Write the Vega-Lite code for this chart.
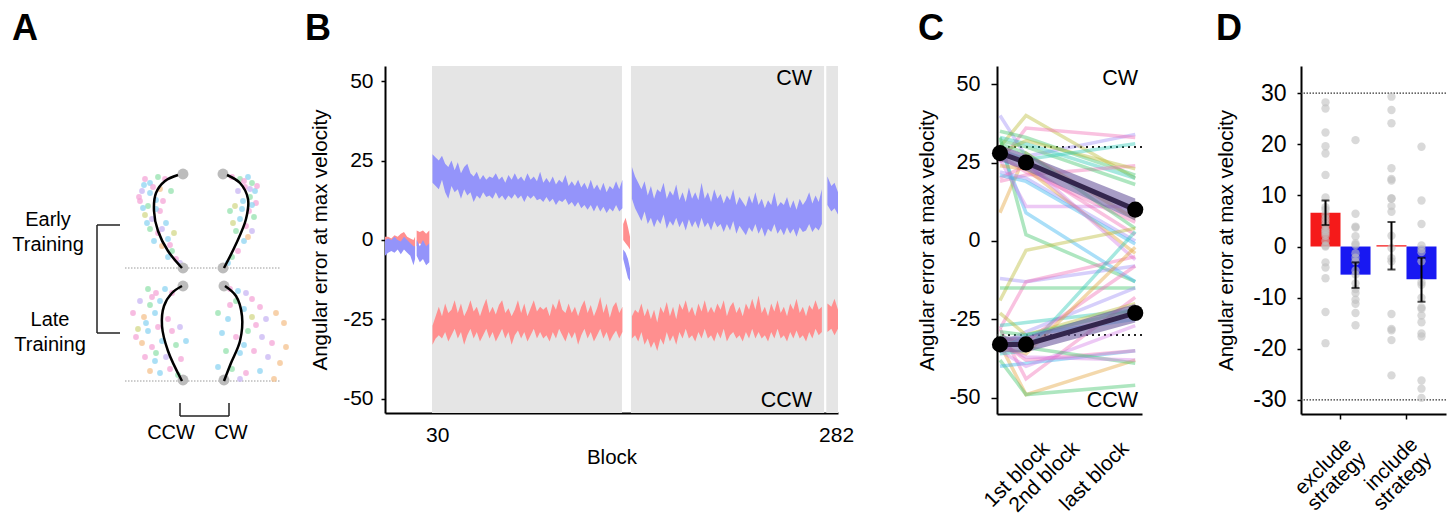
{
"$schema": "https://vega.github.io/schema/vega-lite/v6.json",
"padding": {"left": 0, "top": 11, "right": 0, "bottom": 0},
"background": "white",
"spacing": 159,
"bounds": "flush",
"resolve": {"scale": {"color": "independent", "x": "independent", "y": "independent"}},
"config": {
  "font": "Liberation Sans",
  "view": {"stroke": null},
  "title": {"fontSize": 36, "fontWeight": "bold", "anchor": "start", "frame": "group", "offset": 18, "color": "black", "font": "Liberation Sans"},
  "axis": {"grid": false, "domainColor": "black", "domainWidth": 2, "tickColor": "black", "tickWidth": 1.5, "labelColor": "black", "titleColor": "black", "titleFontWeight": "normal", "labelFontSize": 21, "titleFontSize": 20.5, "labelFont": "Liberation Sans", "titleFont": "Liberation Sans", "labelOverlap": false}
},
"datasets": {
  "arule": [{"x":125,"x2":280,"y":267},{"x":125,"x2":280,"y":380}],
  "abr": [{"x":97,"x2":97,"y":224,"y2":332},{"x":97,"x2":120,"y":224,"y2":224},{"x":97,"x2":120,"y":332,"y2":332},{"x":180,"x2":180,"y":402,"y2":415},{"x":180,"x2":229,"y":415,"y2":415},{"x":229,"x2":229,"y":402,"y2":415}],
  "atxt": [{"t":"Early","x":48,"y":219},{"t":"Training","x":48,"y":244},{"t":"Late","x":50,"y":319},{"t":"Training","x":50,"y":344},{"t":"CCW","x":171,"y":432},{"t":"CW","x":231,"y":432}],
  "aend": [{"x":183,"y":173},{"x":223,"y":173},{"x":183,"y":267},{"x":223,"y":267},{"x":183,"y":285},{"x":224,"y":285},{"x":183,"y":379},{"x":224,"y":379}],
  "acurve": [
    {"cv":"ec","o":1,"x":178,"y":174},{"cv":"ec","o":2,"x":165,"y":180},{"cv":"ec","o":3,"x":156,"y":192},{"cv":"ec","o":4,"x":154,"y":210},{"cv":"ec","o":5,"x":158,"y":230},{"cv":"ec","o":6,"x":168,"y":250},{"cv":"ec","o":7,"x":182,"y":267},
    {"cv":"ew","o":1,"x":227,"y":174},{"cv":"ew","o":2,"x":240,"y":182},{"cv":"ew","o":3,"x":248,"y":198},{"cv":"ew","o":4,"x":246,"y":218},{"cv":"ew","o":5,"x":236,"y":243},{"cv":"ew","o":6,"x":224,"y":267},
    {"cv":"lc","o":1,"x":182,"y":285},{"cv":"lc","o":2,"x":172,"y":292},{"cv":"lc","o":3,"x":164,"y":305},{"cv":"lc","o":4,"x":162,"y":325},{"cv":"lc","o":5,"x":168,"y":350},{"cv":"lc","o":6,"x":182,"y":380},
    {"cv":"lw","o":1,"x":225,"y":285},{"cv":"lw","o":2,"x":236,"y":295},{"cv":"lw","o":3,"x":242,"y":315},{"cv":"lw","o":4,"x":240,"y":340},{"cv":"lw","o":5,"x":231,"y":362},{"cv":"lw","o":6,"x":224,"y":380}
  ],
  "adots": [
    {"x":145,"y":178,"c":"p"},{"x":150,"y":182,"c":"b"},{"x":158,"y":176,"c":"g"},{"x":165,"y":178,"c":"p"},{"x":142,"y":190,"c":"l"},{"x":150,"y":192,"c":"b"},{"x":160,"y":188,"c":"o"},{"x":140,"y":200,"c":"p"},{"x":148,"y":205,"c":"g"},{"x":156,"y":199,"c":"b"},{"x":145,"y":214,"c":"y"},{"x":152,"y":218,"c":"l"},{"x":160,"y":210,"c":"p"},{"x":166,"y":222,"c":"b"},{"x":150,"y":228,"c":"g"},{"x":158,"y":232,"c":"p"},{"x":168,"y":238,"c":"b"},{"x":162,"y":245,"c":"o"},{"x":172,"y":250,"c":"g"},{"x":176,"y":258,"c":"p"},{"x":168,"y":256,"c":"b"},{"x":180,"y":262,"c":"l"},{"x":139,"y":196,"c":"p"},{"x":154,"y":240,"c":"b"},{"x":174,"y":232,"c":"y"},{"x":171,"y":190,"c":"g"},{"x":163,"y":200,"c":"p"},{"x":147,"y":222,"c":"b"},{"x":153,"y":186,"c":"p"},{"x":144,"y":184,"c":"b"},{"x":162,"y":228,"c":"l"},{"x":156,"y":208,"c":"b"},{"x":170,"y":244,"c":"p"},{"x":143,"y":207,"c":"b"},
    {"x":232,"y":176,"c":"p"},{"x":240,"y":178,"c":"g"},{"x":248,"y":176,"c":"b"},{"x":252,"y":182,"c":"g"},{"x":245,"y":186,"c":"p"},{"x":255,"y":190,"c":"b"},{"x":238,"y":190,"c":"l"},{"x":250,"y":196,"c":"g"},{"x":256,"y":202,"c":"p"},{"x":243,"y":200,"c":"b"},{"x":235,"y":205,"c":"y"},{"x":249,"y":210,"c":"p"},{"x":254,"y":216,"c":"g"},{"x":240,"y":218,"c":"b"},{"x":246,"y":225,"c":"p"},{"x":252,"y":230,"c":"l"},{"x":236,"y":230,"c":"g"},{"x":244,"y":240,"c":"b"},{"x":238,"y":250,"c":"p"},{"x":232,"y":256,"c":"g"},{"x":228,"y":262,"c":"b"},{"x":248,"y":236,"c":"o"},{"x":230,"y":210,"c":"g"},{"x":233,"y":222,"c":"y"},{"x":257,"y":185,"c":"p"},{"x":242,"y":208,"c":"b"},{"x":250,"y":188,"c":"l"},{"x":244,"y":180,"c":"p"},{"x":252,"y":204,"c":"b"},
    {"x":148,"y":288,"c":"g"},{"x":156,"y":292,"c":"p"},{"x":165,"y":288,"c":"b"},{"x":172,"y":292,"c":"p"},{"x":140,"y":300,"c":"l"},{"x":150,"y":304,"c":"g"},{"x":160,"y":300,"c":"b"},{"x":133,"y":312,"c":"p"},{"x":144,"y":316,"c":"o"},{"x":155,"y":312,"c":"b"},{"x":168,"y":318,"c":"p"},{"x":138,"y":328,"c":"y"},{"x":148,"y":330,"c":"b"},{"x":158,"y":326,"c":"p"},{"x":180,"y":326,"c":"l"},{"x":142,"y":342,"c":"o"},{"x":152,"y":346,"c":"p"},{"x":162,"y":340,"c":"b"},{"x":176,"y":344,"c":"g"},{"x":145,"y":356,"c":"p"},{"x":155,"y":360,"c":"b"},{"x":166,"y":356,"c":"l"},{"x":181,"y":358,"c":"p"},{"x":150,"y":370,"c":"o"},{"x":160,"y":372,"c":"b"},{"x":170,"y":368,"c":"p"},{"x":178,"y":374,"c":"g"},{"x":136,"y":336,"c":"p"},{"x":186,"y":340,"c":"b"},{"x":152,"y":296,"c":"p"},{"x":146,"y":322,"c":"b"},{"x":156,"y":352,"c":"g"},{"x":172,"y":330,"c":"p"},
    {"x":230,"y":288,"c":"p"},{"x":238,"y":290,"c":"b"},{"x":246,"y":292,"c":"l"},{"x":252,"y":298,"c":"p"},{"x":236,"y":300,"c":"g"},{"x":260,"y":306,"c":"p"},{"x":244,"y":308,"c":"b"},{"x":218,"y":312,"c":"g"},{"x":228,"y":318,"c":"b"},{"x":252,"y":316,"c":"y"},{"x":266,"y":318,"c":"l"},{"x":276,"y":312,"c":"o"},{"x":284,"y":322,"c":"o"},{"x":222,"y":332,"c":"b"},{"x":236,"y":336,"c":"p"},{"x":248,"y":330,"c":"g"},{"x":262,"y":336,"c":"l"},{"x":272,"y":342,"c":"p"},{"x":286,"y":346,"c":"o"},{"x":226,"y":350,"c":"g"},{"x":240,"y":352,"c":"b"},{"x":254,"y":350,"c":"p"},{"x":268,"y":356,"c":"l"},{"x":280,"y":362,"c":"o"},{"x":218,"y":366,"c":"b"},{"x":232,"y":368,"c":"g"},{"x":246,"y":372,"c":"p"},{"x":260,"y":370,"c":"b"},{"x":274,"y":378,"c":"o"},{"x":240,"y":378,"c":"l"},{"x":256,"y":324,"c":"p"},{"x":244,"y":344,"c":"b"},{"x":230,"y":304,"c":"p"}
  ],
  "bshade": [{"s":26.7,"e":146.7},{"s":152.4,"e":274.4},{"s":275.8,"e":283.2}],
  "bdata": [
    {"seg":1,"b":-3,"blo":-5,"bhi":0,"rlo":-3,"rhi":1},{"seg":1,"b":-1,"blo":-4,"bhi":0.5,"rlo":-2.5,"rhi":1},{"seg":1,"b":1,"blo":-3.5,"bhi":0,"rlo":-2,"rhi":0.5},{"seg":1,"b":3,"blo":-4,"bhi":1,"rlo":-2,"rhi":1.5},{"seg":1,"b":5,"blo":-3,"bhi":0,"rlo":-1.5,"rhi":1},{"seg":1,"b":7,"blo":-4.5,"bhi":-0.5,"rlo":-2,"rhi":2},{"seg":1,"b":9,"blo":-3,"bhi":1,"rlo":-2.5,"rhi":2.5},{"seg":1,"b":11,"blo":-4,"bhi":0,"rlo":-3,"rhi":1},{"seg":1,"b":13,"blo":-5,"bhi":-1,"rlo":-3.5,"rhi":0.5},{"seg":1,"b":15,"blo":-8,"bhi":-2,"rlo":-4,"rhi":0},{"seg":1,"b":16,"blo":-6,"bhi":-2,"rlo":-3,"rhi":1},
    {"seg":2,"b":17,"blo":-5,"bhi":0,"rlo":-2,"rhi":3},{"seg":2,"b":19,"blo":-7,"bhi":-2,"rlo":-1,"rhi":2.5},{"seg":2,"b":21,"blo":-6,"bhi":0,"rlo":-2,"rhi":3},{"seg":2,"b":23,"blo":-8,"bhi":-2,"rlo":-3,"rhi":2},{"seg":2,"b":25,"blo":-7,"bhi":-1,"rlo":-1,"rhi":3},
    {"seg":3,"b":27,"blo":18,"bhi":27,"rlo":-33,"rhi":-27},{"seg":3,"b":29,"blo":17,"bhi":26,"rlo":-31,"rhi":-24},{"seg":3,"b":31,"blo":16,"bhi":25,"rlo":-30,"rhi":-21},{"seg":3,"b":33,"blo":19,"bhi":26.5,"rlo":-31,"rhi":-24},{"seg":3,"b":35,"blo":15,"bhi":24,"rlo":-29,"rhi":-20},{"seg":3,"b":37,"blo":13,"bhi":23,"rlo":-32,"rhi":-23},{"seg":3,"b":39,"blo":17,"bhi":25,"rlo":-30,"rhi":-22},{"seg":3,"b":41,"blo":15,"bhi":22,"rlo":-28,"rhi":-19},{"seg":3,"b":43,"blo":16,"bhi":24.5,"rlo":-31,"rhi":-23},{"seg":3,"b":45,"blo":13,"bhi":21,"rlo":-29,"rhi":-20},{"seg":3,"b":47,"blo":16,"bhi":23,"rlo":-33,"rhi":-24},{"seg":3,"b":49,"blo":14,"bhi":24,"rlo":-30,"rhi":-22},{"seg":3,"b":51,"blo":15,"bhi":21,"rlo":-28,"rhi":-19},{"seg":3,"b":53,"blo":12,"bhi":20,"rlo":-31,"rhi":-22.5},{"seg":3,"b":55,"blo":14,"bhi":21.5,"rlo":-29,"rhi":-21},{"seg":3,"b":57,"blo":13,"bhi":19,"rlo":-32,"rhi":-24},{"seg":3,"b":59,"blo":15,"bhi":20.5,"rlo":-30,"rhi":-21},{"seg":3,"b":61,"blo":13.5,"bhi":19,"rlo":-28,"rhi":-18.5},{"seg":3,"b":63,"blo":14,"bhi":20,"rlo":-31,"rhi":-23},{"seg":3,"b":65,"blo":13,"bhi":19.5,"rlo":-29,"rhi":-21},{"seg":3,"b":67,"blo":15,"bhi":21,"rlo":-32,"rhi":-23.5},{"seg":3,"b":69,"blo":13,"bhi":19,"rlo":-30,"rhi":-20.5},{"seg":3,"b":71,"blo":14,"bhi":20,"rlo":-28,"rhi":-19},{"seg":3,"b":73,"blo":12.5,"bhi":18,"rlo":-31,"rhi":-23},{"seg":3,"b":75,"blo":14,"bhi":20.5,"rlo":-29,"rhi":-21.5},{"seg":3,"b":77,"blo":13,"bhi":19,"rlo":-33,"rhi":-24},{"seg":3,"b":79,"blo":14.5,"bhi":21,"rlo":-30,"rhi":-22},{"seg":3,"b":81,"blo":13,"bhi":19,"rlo":-28.5,"rhi":-19},{"seg":3,"b":83,"blo":14,"bhi":20,"rlo":-31,"rhi":-23},{"seg":3,"b":85,"blo":12,"bhi":18.5,"rlo":-29,"rhi":-20},{"seg":3,"b":87,"blo":14,"bhi":21,"rlo":-32,"rhi":-24},{"seg":3,"b":89,"blo":13,"bhi":19,"rlo":-30,"rhi":-21.5},{"seg":3,"b":91,"blo":14,"bhi":20,"rlo":-28,"rhi":-19},{"seg":3,"b":93,"blo":12.5,"bhi":18.5,"rlo":-31,"rhi":-22.5},{"seg":3,"b":95,"blo":13,"bhi":21.5,"rlo":-29,"rhi":-21},{"seg":3,"b":97,"blo":12,"bhi":18,"rlo":-31,"rhi":-22},{"seg":3,"b":99,"blo":13.5,"bhi":19.5,"rlo":-30,"rhi":-21},{"seg":3,"b":101,"blo":12,"bhi":18,"rlo":-32,"rhi":-24},{"seg":3,"b":103,"blo":13,"bhi":20,"rlo":-29,"rhi":-20},{"seg":3,"b":105,"blo":11,"bhi":17.5,"rlo":-31,"rhi":-22},{"seg":3,"b":107,"blo":12.5,"bhi":19,"rlo":-28,"rhi":-18.5},{"seg":3,"b":109,"blo":12,"bhi":18,"rlo":-30,"rhi":-22},{"seg":3,"b":111,"blo":13,"bhi":20.5,"rlo":-32,"rhi":-23},{"seg":3,"b":113,"blo":11,"bhi":17,"rlo":-29,"rhi":-20},{"seg":3,"b":115,"blo":12,"bhi":18.5,"rlo":-31,"rhi":-23},{"seg":3,"b":117,"blo":10.5,"bhi":17,"rlo":-29,"rhi":-21},{"seg":3,"b":119,"blo":12,"bhi":19,"rlo":-33,"rhi":-24},{"seg":3,"b":121,"blo":10,"bhi":16.5,"rlo":-30,"rhi":-21},{"seg":3,"b":123,"blo":11,"bhi":18,"rlo":-28,"rhi":-19},{"seg":3,"b":125,"blo":9.5,"bhi":16,"rlo":-31,"rhi":-23},{"seg":3,"b":127,"blo":11,"bhi":19,"rlo":-29,"rhi":-20.5},{"seg":3,"b":129,"blo":9,"bhi":16,"rlo":-32,"rhi":-24},{"seg":3,"b":131,"blo":11,"bhi":17.5,"rlo":-30,"rhi":-21.5},{"seg":3,"b":133,"blo":9,"bhi":15.5,"rlo":-28,"rhi":-18},{"seg":3,"b":135,"blo":10.5,"bhi":18,"rlo":-31,"rhi":-23},{"seg":3,"b":137,"blo":8.5,"bhi":15,"rlo":-29,"rhi":-20},{"seg":3,"b":139,"blo":10,"bhi":17,"rlo":-32,"rhi":-24.5},{"seg":3,"b":141,"blo":9,"bhi":16,"rlo":-30,"rhi":-21},{"seg":3,"b":143,"blo":11,"bhi":18.5,"rlo":-28.5,"rhi":-19.5},{"seg":3,"b":145,"blo":9,"bhi":16,"rlo":-31,"rhi":-23},{"seg":3,"b":147,"blo":10,"bhi":19,"rlo":-29,"rhi":-21},
    {"seg":4,"b":147.5,"blo":-6,"bhi":-3,"rlo":0,"rhi":5},{"seg":4,"b":149,"blo":-9,"bhi":-4,"rlo":-1,"rhi":7},{"seg":4,"b":150.5,"blo":-12,"bhi":-6,"rlo":-2,"rhi":4},{"seg":4,"b":151.8,"blo":-13,"bhi":-9,"rlo":-3,"rhi":1},
    {"seg":5,"b":153,"blo":13,"bhi":23,"rlo":-31,"rhi":-24},{"seg":5,"b":155,"blo":10,"bhi":20,"rlo":-30,"rhi":-22},{"seg":5,"b":157,"blo":8,"bhi":18,"rlo":-32,"rhi":-23},{"seg":5,"b":159,"blo":6,"bhi":16,"rlo":-29,"rhi":-20},{"seg":5,"b":161,"blo":9,"bhi":18.5,"rlo":-33,"rhi":-24},{"seg":5,"b":163,"blo":5,"bhi":14,"rlo":-31,"rhi":-21.5},{"seg":5,"b":165,"blo":7,"bhi":17,"rlo":-34,"rhi":-25},{"seg":5,"b":167,"blo":4,"bhi":13,"rlo":-32,"rhi":-22},{"seg":5,"b":169,"blo":6.5,"bhi":16,"rlo":-35,"rhi":-26},{"seg":5,"b":171,"blo":5,"bhi":15,"rlo":-31,"rhi":-21},{"seg":5,"b":173,"blo":8,"bhi":18,"rlo":-33,"rhi":-23},{"seg":5,"b":175,"blo":3.5,"bhi":13,"rlo":-29,"rhi":-19.5},{"seg":5,"b":177,"blo":6,"bhi":15.5,"rlo":-32,"rhi":-24},{"seg":5,"b":179,"blo":4.5,"bhi":14,"rlo":-30,"rhi":-21},{"seg":5,"b":181,"blo":7,"bhi":17.5,"rlo":-33,"rhi":-25},{"seg":5,"b":183,"blo":4,"bhi":12.5,"rlo":-29,"rhi":-20},{"seg":5,"b":185,"blo":6,"bhi":15,"rlo":-31,"rhi":-22},{"seg":5,"b":187,"blo":3,"bhi":12,"rlo":-28,"rhi":-19},{"seg":5,"b":189,"blo":6.5,"bhi":16.5,"rlo":-31,"rhi":-23},{"seg":5,"b":191,"blo":4,"bhi":13,"rlo":-30,"rhi":-21},{"seg":5,"b":193,"blo":6,"bhi":15,"rlo":-32,"rhi":-24},{"seg":5,"b":195,"blo":3.5,"bhi":12.5,"rlo":-29,"rhi":-20},{"seg":5,"b":197,"blo":7,"bhi":18,"rlo":-31,"rhi":-22.5},{"seg":5,"b":199,"blo":4,"bhi":13,"rlo":-28,"rhi":-19},{"seg":5,"b":201,"blo":5.5,"bhi":15,"rlo":-31,"rhi":-23},{"seg":5,"b":203,"blo":3,"bhi":12,"rlo":-30,"rhi":-21},{"seg":5,"b":205,"blo":6,"bhi":16,"rlo":-32,"rhi":-23},{"seg":5,"b":207,"blo":4,"bhi":13,"rlo":-29,"rhi":-20},{"seg":5,"b":209,"blo":5,"bhi":14.5,"rlo":-31,"rhi":-22},{"seg":5,"b":211,"blo":2.5,"bhi":11.5,"rlo":-28,"rhi":-19},{"seg":5,"b":213,"blo":5,"bhi":14,"rlo":-32,"rhi":-24},{"seg":5,"b":215,"blo":3,"bhi":12.5,"rlo":-30,"rhi":-21},{"seg":5,"b":217,"blo":6,"bhi":16,"rlo":-29,"rhi":-19.5},{"seg":5,"b":219,"blo":2,"bhi":11,"rlo":-31,"rhi":-23},{"seg":5,"b":221,"blo":4.5,"bhi":13.5,"rlo":-30,"rhi":-21},{"seg":5,"b":223,"blo":3,"bhi":12,"rlo":-32,"rhi":-24},{"seg":5,"b":225,"blo":1.5,"bhi":10.5,"rlo":-29,"rhi":-20},{"seg":5,"b":227,"blo":4,"bhi":14,"rlo":-31,"rhi":-22},{"seg":5,"b":229,"blo":2.5,"bhi":11.5,"rlo":-28,"rhi":-18.5},{"seg":5,"b":231,"blo":5,"bhi":15,"rlo":-31,"rhi":-22},{"seg":5,"b":233,"blo":2,"bhi":11,"rlo":-29,"rhi":-17.5},{"seg":5,"b":235,"blo":4,"bhi":13,"rlo":-31,"rhi":-23},{"seg":5,"b":237,"blo":1,"bhi":10,"rlo":-30,"rhi":-21},{"seg":5,"b":239,"blo":3.5,"bhi":12.5,"rlo":-32,"rhi":-24},{"seg":5,"b":241,"blo":2.5,"bhi":11,"rlo":-29,"rhi":-20},{"seg":5,"b":243,"blo":5,"bhi":15,"rlo":-31,"rhi":-22.5},{"seg":5,"b":245,"blo":2,"bhi":10.5,"rlo":-28,"rhi":-19},{"seg":5,"b":247,"blo":3.5,"bhi":12,"rlo":-31,"rhi":-23},{"seg":5,"b":249,"blo":1.5,"bhi":11,"rlo":-30,"rhi":-21},{"seg":5,"b":251,"blo":4,"bhi":13.5,"rlo":-32,"rhi":-24},{"seg":5,"b":253,"blo":2,"bhi":10,"rlo":-29,"rhi":-20},{"seg":5,"b":255,"blo":3.5,"bhi":12.5,"rlo":-31,"rhi":-22},{"seg":5,"b":257,"blo":1,"bhi":9.5,"rlo":-28.5,"rhi":-18.5},{"seg":5,"b":259,"blo":4,"bhi":13,"rlo":-31,"rhi":-23},{"seg":5,"b":261,"blo":2.5,"bhi":11,"rlo":-30,"rhi":-21},{"seg":5,"b":263,"blo":3,"bhi":12.5,"rlo":-32,"rhi":-24},{"seg":5,"b":265,"blo":5,"bhi":15,"rlo":-29,"rhi":-20.5},{"seg":5,"b":267,"blo":2.5,"bhi":11.5,"rlo":-31,"rhi":-22},{"seg":5,"b":269,"blo":4,"bhi":14,"rlo":-28,"rhi":-19},{"seg":5,"b":271,"blo":3,"bhi":12,"rlo":-30,"rhi":-22},{"seg":5,"b":273,"blo":5,"bhi":16,"rlo":-29,"rhi":-21},
    {"seg":6,"b":276.5,"blo":11,"bhi":20,"rlo":-29,"rhi":-20},{"seg":6,"b":279,"blo":9,"bhi":17,"rlo":-28,"rhi":-21},{"seg":6,"b":281,"blo":10,"bhi":18,"rlo":-30,"rhi":-18.5},{"seg":6,"b":283.2,"blo":8,"bhi":15,"rlo":-28,"rhi":-22}
  ],
  "csubj": [
    {"id":"s01","bx":1,"v":40},{"id":"s01","bx":2,"v":27},{"id":"s01","bx":6.2,"v":34},
    {"id":"s02","bx":1,"v":30},{"id":"s02","bx":2,"v":40},{"id":"s02","bx":6.2,"v":20},
    {"id":"s03","bx":1,"v":25},{"id":"s03","bx":2,"v":36},{"id":"s03","bx":6.2,"v":33},
    {"id":"s04","bx":1,"v":35},{"id":"s04","bx":2,"v":33},{"id":"s04","bx":6.2,"v":21},
    {"id":"s05","bx":1,"v":33},{"id":"s05","bx":2,"v":31},{"id":"s05","bx":6.2,"v":20},
    {"id":"s06","bx":1,"v":19},{"id":"s06","bx":2,"v":21},{"id":"s06","bx":6.2,"v":24},
    {"id":"s07","bx":1,"v":9},{"id":"s07","bx":2,"v":28},{"id":"s07","bx":6.2,"v":7},
    {"id":"s08","bx":1,"v":33},{"id":"s08","bx":2,"v":2},{"id":"s08","bx":6.2,"v":-13},
    {"id":"s09","bx":1,"v":30},{"id":"s09","bx":2,"v":9},{"id":"s09","bx":6.2,"v":-13},
    {"id":"s10","bx":1,"v":26},{"id":"s10","bx":2,"v":11},{"id":"s10","bx":6.2,"v":11},
    {"id":"s11","bx":1,"v":22},{"id":"s11","bx":2,"v":20},{"id":"s11","bx":6.2,"v":0},
    {"id":"s12","bx":1,"v":28},{"id":"s12","bx":2,"v":32},{"id":"s12","bx":6.2,"v":23},
    {"id":"s13","bx":1,"v":27},{"id":"s13","bx":2,"v":22},{"id":"s13","bx":6.2,"v":6},
    {"id":"s14","bx":1,"v":32},{"id":"s14","bx":2,"v":30},{"id":"s14","bx":6.2,"v":18},
    {"id":"s15","bx":1,"v":29},{"id":"s15","bx":2,"v":26},{"id":"s15","bx":6.2,"v":31},
    {"id":"s16","bx":1,"v":20},{"id":"s16","bx":2,"v":24},{"id":"s16","bx":6.2,"v":2},
    {"id":"s17","bx":1,"v":24},{"id":"s17","bx":2,"v":23},{"id":"s17","bx":6.2,"v":-4},
    {"id":"s18","bx":1,"v":31},{"id":"s18","bx":2,"v":28},{"id":"s18","bx":6.2,"v":4},
    {"id":"s19","bx":1,"v":21},{"id":"s19","bx":2,"v":19},{"id":"s19","bx":6.2,"v":-1},
    {"id":"s20","bx":1,"v":29},{"id":"s20","bx":2,"v":25},{"id":"s20","bx":6.2,"v":-6},
    {"id":"s21","bx":1,"v":-12},{"id":"s21","bx":2,"v":-13},{"id":"s21","bx":6.2,"v":-8},
    {"id":"s22","bx":1,"v":-19},{"id":"s22","bx":2,"v":-3},{"id":"s22","bx":6.2,"v":4},
    {"id":"s23","bx":1,"v":-28},{"id":"s23","bx":2,"v":-13},{"id":"s23","bx":6.2,"v":-5},
    {"id":"s24","bx":1,"v":-15},{"id":"s24","bx":2,"v":-15},{"id":"s24","bx":6.2,"v":-15},
    {"id":"s25","bx":1,"v":-27},{"id":"s25","bx":2,"v":-26},{"id":"s25","bx":6.2,"v":-22},
    {"id":"s26","bx":1,"v":-28},{"id":"s26","bx":2,"v":-44},{"id":"s26","bx":6.2,"v":-18},
    {"id":"s27","bx":1,"v":-33},{"id":"s27","bx":2,"v":-49},{"id":"s27","bx":6.2,"v":-38},
    {"id":"s28","bx":1,"v":-38},{"id":"s28","bx":2,"v":-49},{"id":"s28","bx":6.2,"v":-46},
    {"id":"s29","bx":1,"v":-40},{"id":"s29","bx":2,"v":-39},{"id":"s29","bx":6.2,"v":-35},
    {"id":"s30","bx":1,"v":-35},{"id":"s30","bx":2,"v":-40},{"id":"s30","bx":6.2,"v":-27},
    {"id":"s31","bx":1,"v":-33},{"id":"s31","bx":2,"v":-29},{"id":"s31","bx":6.2,"v":-15},
    {"id":"s32","bx":1,"v":-23},{"id":"s32","bx":2,"v":-30},{"id":"s32","bx":6.2,"v":-20},
    {"id":"s33","bx":1,"v":-32},{"id":"s33","bx":2,"v":-38},{"id":"s33","bx":6.2,"v":-35},
    {"id":"s34","bx":1,"v":-30},{"id":"s34","bx":2,"v":-34},{"id":"s34","bx":6.2,"v":-39},
    {"id":"s35","bx":1,"v":-36},{"id":"s35","bx":2,"v":-35},{"id":"s35","bx":6.2,"v":3},
    {"id":"s36","bx":1,"v":-31},{"id":"s36","bx":2,"v":-32},{"id":"s36","bx":6.2,"v":-8},
    {"id":"s37","bx":1,"v":-34},{"id":"s37","bx":2,"v":-36},{"id":"s37","bx":6.2,"v":-2},
    {"id":"s38","bx":1,"v":-29},{"id":"s38","bx":2,"v":-30},{"id":"s38","bx":6.2,"v":-22},
    {"id":"s39","bx":1,"v":-35},{"id":"s39","bx":2,"v":-30},{"id":"s39","bx":6.2,"v":-25},
    {"id":"s40","bx":1,"v":-33},{"id":"s40","bx":2,"v":-37},{"id":"s40","bx":6.2,"v":-38}
  ],
  "cmean": [
    {"dir":"CW","bx":1,"m":28,"lo":25.5,"hi":30.5},{"dir":"CW","bx":2,"m":25,"lo":22.5,"hi":27.5},{"dir":"CW","bx":6.2,"m":10,"lo":6.5,"hi":13.5},
    {"dir":"CCW","bx":1,"m":-33,"lo":-35.5,"hi":-30.5},{"dir":"CCW","bx":2,"m":-33,"lo":-35.5,"hi":-30.5},{"dir":"CCW","bx":6.2,"m":-23,"lo":-26,"hi":-20}
  ],
  "dbars": [
    {"g":"exclude strategy","dir":"CCW","m":6.6,"lo":4.2,"hi":9},
    {"g":"exclude strategy","dir":"CW","m":-5.5,"lo":-8.1,"hi":-3.1},
    {"g":"include strategy","dir":"CCW","m":0.25,"lo":-4.5,"hi":4.8},
    {"g":"include strategy","dir":"CW","m":-6.4,"lo":-10.8,"hi":-2.2}
  ],
  "dpts": [
    {"g":"exclude strategy","dir":"CCW","v":28.2},{"g":"exclude strategy","dir":"CCW","v":27},{"g":"exclude strategy","dir":"CCW","v":22.3},{"g":"exclude strategy","dir":"CCW","v":19.6},{"g":"exclude strategy","dir":"CCW","v":18.2},{"g":"exclude strategy","dir":"CCW","v":14},{"g":"exclude strategy","dir":"CCW","v":9.6},{"g":"exclude strategy","dir":"CCW","v":7.7},{"g":"exclude strategy","dir":"CCW","v":7.2},{"g":"exclude strategy","dir":"CCW","v":6.2},{"g":"exclude strategy","dir":"CCW","v":5.5},{"g":"exclude strategy","dir":"CCW","v":4.9},{"g":"exclude strategy","dir":"CCW","v":4.2},{"g":"exclude strategy","dir":"CCW","v":3.4},{"g":"exclude strategy","dir":"CCW","v":3},{"g":"exclude strategy","dir":"CCW","v":2.6},{"g":"exclude strategy","dir":"CCW","v":2.1},{"g":"exclude strategy","dir":"CCW","v":1.1},{"g":"exclude strategy","dir":"CCW","v":0.2},{"g":"exclude strategy","dir":"CCW","v":0},{"g":"exclude strategy","dir":"CCW","v":-3.1},{"g":"exclude strategy","dir":"CCW","v":-4.1},{"g":"exclude strategy","dir":"CCW","v":-6.2},{"g":"exclude strategy","dir":"CCW","v":-12.8},{"g":"exclude strategy","dir":"CCW","v":-18.9},
    {"g":"exclude strategy","dir":"CW","v":20.8},{"g":"exclude strategy","dir":"CW","v":6.4},{"g":"exclude strategy","dir":"CW","v":3.9},{"g":"exclude strategy","dir":"CW","v":3.7},{"g":"exclude strategy","dir":"CW","v":2},{"g":"exclude strategy","dir":"CW","v":0.6},{"g":"exclude strategy","dir":"CW","v":0.3},{"g":"exclude strategy","dir":"CW","v":-1.3},{"g":"exclude strategy","dir":"CW","v":-2.2},{"g":"exclude strategy","dir":"CW","v":-2.9},{"g":"exclude strategy","dir":"CW","v":-4.7},{"g":"exclude strategy","dir":"CW","v":-5.5},{"g":"exclude strategy","dir":"CW","v":-7.2},{"g":"exclude strategy","dir":"CW","v":-8.3},{"g":"exclude strategy","dir":"CW","v":-9.1},{"g":"exclude strategy","dir":"CW","v":-10.4},{"g":"exclude strategy","dir":"CW","v":-11.2},{"g":"exclude strategy","dir":"CW","v":-13},{"g":"exclude strategy","dir":"CW","v":-15.4},
    {"g":"include strategy","dir":"CCW","v":29.3},{"g":"include strategy","dir":"CCW","v":26.7},{"g":"include strategy","dir":"CCW","v":24.1},{"g":"include strategy","dir":"CCW","v":15.3},{"g":"include strategy","dir":"CCW","v":13.2},{"g":"include strategy","dir":"CCW","v":12.9},{"g":"include strategy","dir":"CCW","v":9.4},{"g":"include strategy","dir":"CCW","v":9.4},{"g":"include strategy","dir":"CCW","v":7.9},{"g":"include strategy","dir":"CCW","v":6.8},{"g":"include strategy","dir":"CCW","v":2.1},{"g":"include strategy","dir":"CCW","v":-0.3},{"g":"include strategy","dir":"CCW","v":-2.3},{"g":"include strategy","dir":"CCW","v":-2.9},{"g":"include strategy","dir":"CCW","v":-13.2},{"g":"include strategy","dir":"CCW","v":-16.1},{"g":"include strategy","dir":"CCW","v":-16.4},{"g":"include strategy","dir":"CCW","v":-18.3},{"g":"include strategy","dir":"CCW","v":-25.2},
    {"g":"include strategy","dir":"CW","v":19.5},{"g":"include strategy","dir":"CW","v":9},{"g":"include strategy","dir":"CW","v":4.4},{"g":"include strategy","dir":"CW","v":0.2},{"g":"include strategy","dir":"CW","v":-0.5},{"g":"include strategy","dir":"CW","v":-1.1},{"g":"include strategy","dir":"CW","v":-2.9},{"g":"include strategy","dir":"CW","v":-7},{"g":"include strategy","dir":"CW","v":-7.5},{"g":"include strategy","dir":"CW","v":-10},{"g":"include strategy","dir":"CW","v":-11.9},{"g":"include strategy","dir":"CW","v":-12.2},{"g":"include strategy","dir":"CW","v":-13.5},{"g":"include strategy","dir":"CW","v":-14.8},{"g":"include strategy","dir":"CW","v":-17},{"g":"include strategy","dir":"CW","v":-17.6},{"g":"include strategy","dir":"CW","v":-26.2},{"g":"include strategy","dir":"CW","v":-27.8},{"g":"include strategy","dir":"CW","v":-29.6}
  ]
},
"hconcat": [
  {
    "width": 226, "height": 348,
    "title": {"text": "A", "dx": 12},
    "layer": [
      {"data": {"name": "arule"}, "mark": {"type": "rule", "color": "#9a9a9a", "strokeDash": [1.5, 1.5], "strokeWidth": 1},
       "encoding": {"x": {"field": "x", "type": "quantitative", "scale": {"domain": [0, 226], "nice": false, "zero": false}, "axis": null},
                    "x2": {"field": "x2"},
                    "y": {"field": "y", "type": "quantitative", "scale": {"domain": [413, 65], "nice": false, "zero": false}, "axis": null}}},
      {"data": {"name": "adots"}, "mark": {"type": "circle", "size": 34, "opacity": 0.75},
       "encoding": {"x": {"field": "x", "type": "quantitative", "axis": null}, "y": {"field": "y", "type": "quantitative", "axis": null},
                    "color": {"field": "c", "type": "nominal", "scale": {"domain": ["p","b","g","o","l","y"], "range": ["#f4a6d7","#8ed4f2","#94e2ad","#f4c28e","#c8b5f3","#d3d88a"]}, "legend": null}}},
      {"data": {"name": "aend"}, "mark": {"type": "circle", "size": 120, "color": "#bcbcbc", "opacity": 1},
       "encoding": {"x": {"field": "x", "type": "quantitative", "axis": null}, "y": {"field": "y", "type": "quantitative", "axis": null}}},
      {"data": {"name": "acurve"}, "mark": {"type": "line", "color": "black", "strokeWidth": 2.5, "interpolate": "catmull-rom"},
       "encoding": {"x": {"field": "x", "type": "quantitative", "axis": null}, "y": {"field": "y", "type": "quantitative", "axis": null},
                    "detail": {"field": "cv", "type": "nominal"}, "order": {"field": "o", "type": "quantitative"}}},
      {"data": {"name": "abr"}, "mark": {"type": "rule", "color": "#222222", "strokeWidth": 1.5},
       "encoding": {"x": {"field": "x", "type": "quantitative", "axis": null}, "x2": {"field": "x2"},
                    "y": {"field": "y", "type": "quantitative", "axis": null}, "y2": {"field": "y2"}}},
      {"data": {"name": "atxt"}, "mark": {"type": "text", "fontSize": 20, "align": "center", "baseline": "middle", "color": "black", "font": "Liberation Sans"},
       "encoding": {"x": {"field": "x", "type": "quantitative", "axis": null}, "y": {"field": "y", "type": "quantitative", "axis": null}, "text": {"field": "t"}}}
    ]
  },
  {
    "width": 453, "height": 347,
    "title": {"text": "B", "dx": -80},
    "layer": [
      {"data": {"name": "bshade"}, "mark": {"type": "rect", "color": "#e5e5e5"},
       "encoding": {"x": {"field": "s", "type": "quantitative", "title": "Block", "scale": {"domain": [-3, 283.2], "nice": false, "zero": false},
                          "axis": {"values": [30, 282], "ticks": false, "labelFlush": false, "labelPadding": 11, "titlePadding": 2, "title": "Block"}},
                    "x2": {"field": "e"}}},
      {"data": {"name": "bdata"}, "mark": {"type": "area", "color": "#ff8f8f", "opacity": 1},
       "encoding": {"x": {"field": "b", "type": "quantitative", "title": "Block"},
                    "y": {"field": "rlo", "type": "quantitative", "title": "Angular error at max velocity", "scale": {"domain": [-54.5, 54.8], "nice": false, "zero": false},
                          "axis": {"values": [-50, -25, 0, 25, 50], "labelExpr": "toString(datum.value)", "tickSize": 4, "labelPadding": 8, "titlePadding": 12, "title": "Angular error at max velocity"}},
                    "y2": {"field": "rhi"},
                    "detail": {"field": "seg", "type": "nominal"}}},
      {"data": {"name": "bdata"}, "mark": {"type": "area", "color": "#9494fa", "opacity": 1},
       "encoding": {"x": {"field": "b", "type": "quantitative", "title": "Block"},
                    "y": {"field": "blo", "type": "quantitative", "title": "Angular error at max velocity"},
                    "y2": {"field": "bhi"},
                    "detail": {"field": "seg", "type": "nominal"}}},
      {"data": {"values": [{"lab": "CW"}]}, "mark": {"type": "text", "fontSize": 21.5, "align": "right", "baseline": "middle", "color": "black"},
       "encoding": {"x": {"datum": 266.8, "type": "quantitative"}, "y": {"datum": 50.7, "type": "quantitative"}, "text": {"field": "lab"}}},
      {"data": {"values": [{"lab": "CCW"}]}, "mark": {"type": "text", "fontSize": 21.5, "align": "right", "baseline": "middle", "color": "black"},
       "encoding": {"x": {"datum": 266.8, "type": "quantitative"}, "y": {"datum": -50.6, "type": "quantitative"}, "text": {"field": "lab"}}}
    ]
  },
  {
    "width": 145, "height": 348,
    "title": {"text": "C", "dx": -79},
    "layer": [
      {"data": {"values": [{"yv": 30}, {"yv": -30}]}, "mark": {"type": "rule", "color": "#222222", "strokeDash": [2, 4], "strokeWidth": 2},
       "encoding": {"y": {"field": "yv", "type": "quantitative", "title": "Angular error at max velocity", "scale": {"domain": [-55.2, 55.8], "nice": false, "zero": false},
                          "axis": {"values": [-50, -25, 0, 25, 50], "labelExpr": "toString(datum.value)", "tickSize": 6, "labelPadding": 11, "labelFontSize": 21.5, "titlePadding": 11, "title": "Angular error at max velocity"}}}},
      {"data": {"name": "csubj"}, "mark": {"type": "line", "strokeWidth": 3.5, "opacity": 0.42},
       "encoding": {"x": {"field": "bx", "type": "quantitative", "title": null, "scale": {"domain": [0.885, 6.46], "nice": false, "zero": false},
                          "axis": {"values": [1, 2, 6.2], "ticks": false, "labelFlush": false, "labelFontSize": 21, "labelAngle": -45, "labelAlign": "right", "labelBaseline": "middle", "labelPadding": 31,
                                   "labelOffset": {"condition": [{"test": "datum.value == 1", "value": 46}, {"test": "datum.value == 2", "value": 50}], "value": -10},
                                   "labelExpr": "datum.value == 1 ? '1st block' : (datum.value == 2 ? '2nd block' : 'last block')", "title": null}},
                    "y": {"field": "v", "type": "quantitative", "title": "Angular error at max velocity"},
                    "detail": {"field": "id", "type": "nominal"},
                    "color": {"field": "id", "type": "nominal", "scale": {"range": ["#9d8cf5","#b9b934","#f06eb4","#3ec46a","#2cc7b5","#f06eb4","#e2a23a","#3ec46a","#35b2ee","#d47fe6"]}, "legend": null}}},
      {"data": {"name": "cmean"}, "mark": {"type": "area", "color": "#6d5a9e", "opacity": 0.6},
       "encoding": {"x": {"field": "bx", "type": "quantitative", "title": null}, "y": {"field": "lo", "type": "quantitative", "title": "Angular error at max velocity"}, "y2": {"field": "hi"},
                    "detail": {"field": "dir", "type": "nominal"}}},
      {"data": {"name": "cmean"}, "mark": {"type": "line", "color": "#33264d", "strokeWidth": 5},
       "encoding": {"x": {"field": "bx", "type": "quantitative", "title": null}, "y": {"field": "m", "type": "quantitative", "title": "Angular error at max velocity"},
                    "detail": {"field": "dir", "type": "nominal"}}},
      {"data": {"name": "cmean"}, "mark": {"type": "circle", "color": "black", "size": 260, "opacity": 1},
       "encoding": {"x": {"field": "bx", "type": "quantitative", "title": null}, "y": {"field": "m", "type": "quantitative", "title": "Angular error at max velocity"}}},
      {"data": {"values": [{"lab": "CW"}]}, "mark": {"type": "text", "fontSize": 21.5, "align": "right", "baseline": "middle", "color": "black"},
       "encoding": {"x": {"datum": 6.31, "type": "quantitative"}, "y": {"datum": 51.7, "type": "quantitative"}, "text": {"field": "lab"}}},
      {"data": {"values": [{"lab": "CCW"}]}, "mark": {"type": "text", "fontSize": 21.5, "align": "right", "baseline": "middle", "color": "black"},
       "encoding": {"x": {"datum": 6.31, "type": "quantitative"}, "y": {"datum": -51.1, "type": "quantitative"}, "text": {"field": "lab"}}}
    ]
  },
  {
    "width": 145, "height": 348,
    "title": {"text": "D", "dx": -85},
    "layer": [
      {"data": {"values": [{"yv": 30}, {"yv": -30}]}, "mark": {"type": "rule", "color": "#333333", "strokeDash": [1.5, 1.5], "strokeWidth": 1.3},
       "encoding": {"y": {"field": "yv", "type": "quantitative", "title": "Angular error at max velocity", "scale": {"domain": [-32.75, 35.3], "nice": false, "zero": false},
                          "axis": {"values": [-30, -20, -10, 0, 10, 20, 30], "labelExpr": "toString(datum.value)", "tickSize": 4, "labelPadding": 11, "labelFontSize": 23, "titlePadding": 16, "title": "Angular error at max velocity"}}}},
      {"data": {"name": "dbars"}, "mark": {"type": "bar"},
       "encoding": {"x": {"field": "g", "type": "nominal", "title": null, "scale": {"paddingInner": 0.09, "paddingOuter": 0.144},
                          "axis": {"labelAngle": -45, "labelAlign": "right", "labelBaseline": "middle", "labelExpr": "split(datum.label, ' ')", "labelLineHeight": 20, "labelFontSize": 20.5, "tickSize": 5, "labelPadding": 22, "labelOffset": 8, "title": null}},
                    "xOffset": {"field": "dir", "type": "nominal", "scale": {"domain": ["CCW", "CW"], "paddingInner": 0, "paddingOuter": 0}},
                    "y": {"field": "m", "type": "quantitative", "title": "Angular error at max velocity"},
                    "color": {"field": "dir", "type": "nominal", "scale": {"domain": ["CCW", "CW"], "range": ["#f51a1a", "#1818f2"]}, "legend": null}}},
      {"data": {"name": "dpts"}, "mark": {"type": "circle", "size": 70, "color": "#bfbfbf", "opacity": 0.6},
       "encoding": {"x": {"field": "g", "type": "nominal", "title": null}, "xOffset": {"field": "dir", "type": "nominal"},
                    "y": {"field": "v", "type": "quantitative", "title": "Angular error at max velocity"}}},
      {"data": {"name": "dbars"}, "mark": {"type": "rule", "color": "black", "strokeWidth": 2},
       "encoding": {"x": {"field": "g", "type": "nominal", "title": null}, "xOffset": {"field": "dir", "type": "nominal"},
                    "y": {"field": "lo", "type": "quantitative", "title": "Angular error at max velocity"}, "y2": {"field": "hi"}}},
      {"data": {"name": "dbars"}, "mark": {"type": "tick", "color": "black", "thickness": 2, "size": 8},
       "encoding": {"x": {"field": "g", "type": "nominal", "title": null}, "xOffset": {"field": "dir", "type": "nominal"},
                    "y": {"field": "lo", "type": "quantitative", "title": "Angular error at max velocity"}}},
      {"data": {"name": "dbars"}, "mark": {"type": "tick", "color": "black", "thickness": 2, "size": 8},
       "encoding": {"x": {"field": "g", "type": "nominal", "title": null}, "xOffset": {"field": "dir", "type": "nominal"},
                    "y": {"field": "hi", "type": "quantitative", "title": "Angular error at max velocity"}}}
    ]
  }
]
}
